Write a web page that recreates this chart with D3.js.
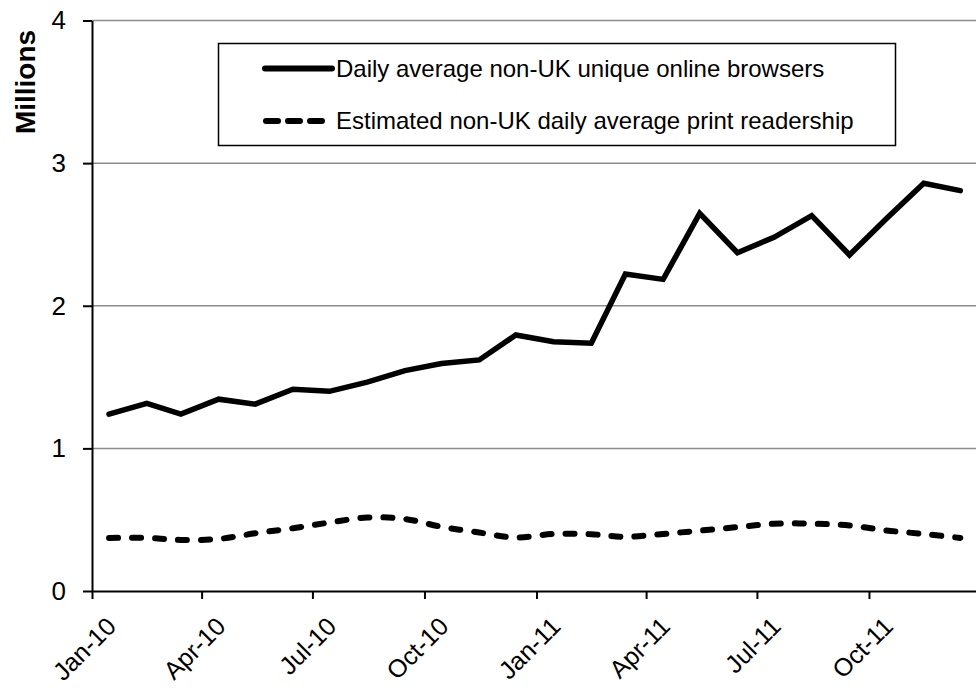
<!DOCTYPE html>
<html>
<head>
<meta charset="utf-8">
<script src="https://cdn.jsdelivr.net/npm/d3@7"></script>
<style>
  html, body { margin: 0; padding: 0; background: #fff; }
  svg { display: block; font-family: "Liberation Sans", Arial, sans-serif; }
</style>
</head>
<body>
<svg id="chart" width="976" height="688"></svg>
<script>
// ---- data ----
const months = [
  "2010-01","2010-02","2010-03","2010-04","2010-05","2010-06",
  "2010-07","2010-08","2010-09","2010-10","2010-11","2010-12",
  "2011-01","2011-02","2011-03","2011-04","2011-05","2011-06",
  "2011-07","2011-08","2011-09","2011-10","2011-11","2011-12"
];
const onlineBrowsers = [
  1.24, 1.315, 1.24, 1.345, 1.31, 1.415, 1.40, 1.465, 1.545, 1.595, 1.62, 1.795,
  1.748, 1.737, 2.222, 2.185, 2.648, 2.372, 2.48, 2.632, 2.356, 2.608, 2.859, 2.807
];
const printReadership = [
  0.372, 0.372, 0.358, 0.365, 0.405, 0.44, 0.48, 0.515, 0.505, 0.45, 0.41, 0.375,
  0.40, 0.398, 0.38, 0.40, 0.423, 0.448, 0.472, 0.472, 0.46, 0.425, 0.40, 0.372
];
const seriesNames = [
  "Daily average non-UK unique online browsers",
  "Estimated non-UK daily average print readership"
];
const yTicks = [0, 1, 2, 3, 4];
const xTickLabels = ["Jan-10","Apr-10","Jul-10","Oct-10","Jan-11","Apr-11","Jul-11","Oct-11"];
const yTitle = "Millions";

(function () {
// ---- scales ----
const parseMonth = d3.timeParse("%Y-%m");
const monthDates = months.map(m => { const d = parseMonth(m); d.setDate(15); return d; });
const tickParse = d3.timeParse("%b-%y");
const tickDates = xTickLabels.map(t => tickParse(t));

const pLeft = 92, pRight = 981, pTop = 20.5, pBottom = 591;
const x = d3.scaleTime().domain([new Date(2010, 0, 1), new Date(2012, 0, 1)]).range([pLeft, pRight]);
const y = d3.scaleLinear().domain([0, 4]).range([pBottom, pTop]);

const svg = d3.select("#chart");
svg.append("rect").attr("width", 976).attr("height", 688).attr("fill", "#fff");

// gridlines
svg.append("g").selectAll("line").data(yTicks.filter(v => v > 0)).join("line")
  .attr("x1", pLeft).attr("x2", 976)
  .attr("y1", d => y(d)).attr("y2", d => y(d))
  .attr("stroke", "#8c8c8c").attr("stroke-width", 1.5);

// y axis
const yAxis = d3.axisLeft(y).tickValues(yTicks).tickFormat(d3.format("d")).tickSizeInner(9).tickSizeOuter(0).tickPadding(17);
const gy = svg.append("g").attr("transform", `translate(${pLeft},0)`).call(yAxis);
gy.select(".domain").attr("stroke", "#000").attr("stroke-width", 2);
gy.selectAll(".tick line").attr("stroke", "#000").attr("stroke-width", 2);
gy.selectAll(".tick text").attr("font-size", 26).attr("fill", "#000")
  .attr("font-family", "Liberation Sans, Arial, sans-serif");

// x axis
const xAxis = d3.axisBottom(x).tickValues(tickDates).tickFormat((d, i) => xTickLabels[i]).tickSizeInner(8).tickSizeOuter(0);
const gx = svg.append("g").attr("transform", `translate(0,${pBottom})`).call(xAxis);
gx.select(".domain").attr("stroke", "#000").attr("stroke-width", 2);
gx.selectAll(".tick line").attr("stroke", "#000").attr("stroke-width", 2);
gx.selectAll(".tick text")
  .attr("font-size", 25).attr("fill", "#000")
  .attr("font-family", "Liberation Sans, Arial, sans-serif")
  .attr("text-anchor", "end")
  .attr("y", 0).attr("dy", 0)
  .attr("transform", "translate(25,37) rotate(-45)");

// y title
svg.append("text")
  .attr("transform", "translate(35,82) rotate(-90)")
  .attr("text-anchor", "middle")
  .attr("font-weight", "bold").attr("font-size", 28).attr("fill", "#000")
  .text(yTitle);

// lines
const solidLine = d3.line().x((d, i) => x(monthDates[i])).y(d => y(d));
const dashLine = d3.line().x((d, i) => x(monthDates[i])).y(d => y(d)).curve(d3.curveCatmullRom.alpha(0.5));

svg.append("path").datum(printReadership)
  .attr("d", dashLine).attr("fill", "none").attr("stroke", "#000")
  .attr("stroke-width", 6).attr("stroke-linecap", "round")
  .attr("stroke-dasharray", "9,14");

svg.append("path").datum(onlineBrowsers)
  .attr("d", solidLine).attr("fill", "none").attr("stroke", "#000")
  .attr("stroke-width", 5.5).attr("stroke-linejoin", "miter").attr("stroke-linecap", "round");

// legend
const lg = svg.append("g");
lg.append("rect").attr("x", 218.5).attr("y", 43.5).attr("width", 677).attr("height", 102)
  .attr("fill", "#fff").attr("stroke", "#000").attr("stroke-width", 1.5);
lg.append("line").attr("x1", 265).attr("x2", 332).attr("y1", 68.5).attr("y2", 68.5)
  .attr("stroke", "#000").attr("stroke-width", 6).attr("stroke-linecap", "round");
lg.append("text").attr("x", 336).attr("y", 68.5).attr("dy", "0.35em")
  .attr("font-size", 24).attr("fill", "#000").text(seriesNames[0]);
lg.append("line").attr("x1", 266).attr("x2", 322).attr("y1", 121).attr("y2", 121)
  .attr("stroke", "#000").attr("stroke-width", 6).attr("stroke-linecap", "round")
  .attr("stroke-dasharray", "12,10");
lg.append("text").attr("x", 336).attr("y", 121).attr("dy", "0.35em")
  .attr("font-size", 24).attr("fill", "#000").text(seriesNames[1]);
})();
</script>
</body>
</html>
